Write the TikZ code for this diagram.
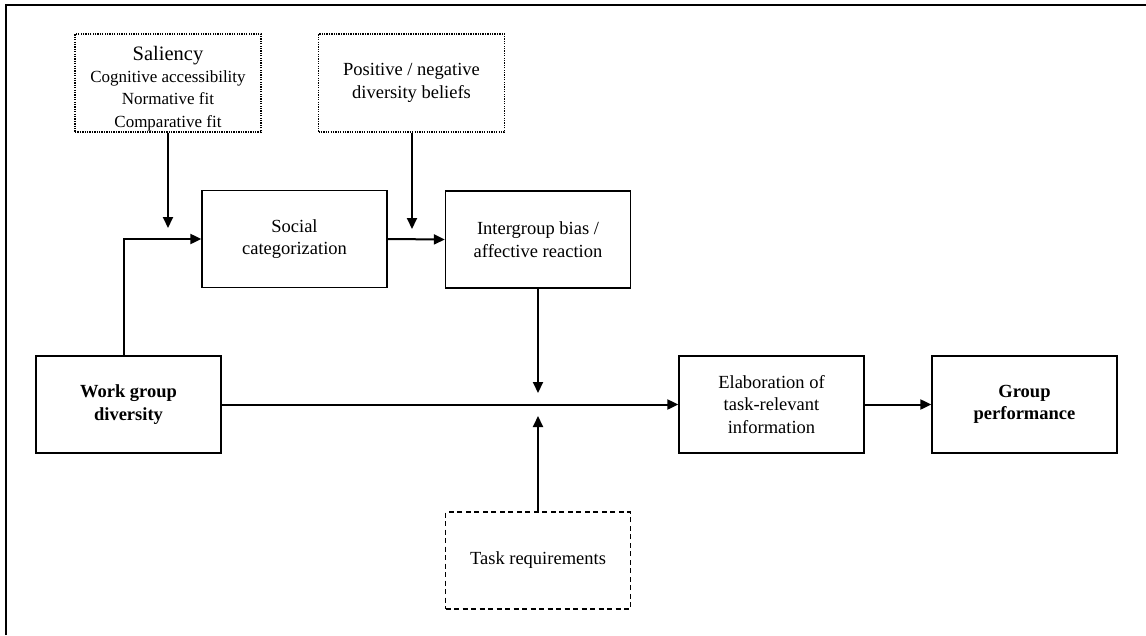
\documentclass[tikz,border=0pt]{standalone}
\usepackage{fontspec}
\setmainfont{Liberation Serif}
\usetikzlibrary{arrows.meta}
\begin{document}
\begin{tikzpicture}[x=1pt,y=-1pt,
  box/.style={draw, line width=1.3pt, minimum width=185pt, minimum height=97pt,
    inner sep=0pt, align=center, font=\fontsize{18.5}{22.5}\selectfont},
  modbox/.style={box, dash pattern=on 1.3pt off 1.1pt},
  taskbox/.style={box, dash pattern=on 5pt off 3.5pt},
  link/.style={line width=2pt, -{Triangle[length=11pt,width=10pt]}},
  plain/.style={line width=2pt}]
\useasboundingbox (0,0) rectangle (1146,635);
% frame
\draw[line width=2pt] (6,635) -- (6,5) -- (1146,5);

% moderators
\node[modbox, minimum width=186pt, minimum height=98pt] (sal) at (168,83)
  {{\fontsize{20.5}{22}\selectfont\rule{0pt}{26pt}Saliency}\\[-1pt]
   {\fontsize{17}{21}\selectfont Cognitive accessibility}\\
   {\fontsize{17}{21}\selectfont Normative fit}\\
   {\fontsize{17}{21}\selectfont Comparative fit}};
\node[modbox, minimum width=186pt, minimum height=98pt] (pos) at (411.5,83)
  {Positive / negative\\diversity beliefs};

% process boxes
\node[box] (soc) at (294.5,239) {Social\\categorization};
\node[box] (ib) at (538,239.5) {Intergroup bias /\\affective reaction};
\node[box] (wgd) at (128.5,404.5) {\bfseries Work group\\\bfseries diversity};
\node[box] (elab) at (771.5,404.5) {Elaboration of\\task-relevant\\information};
\node[box] (gp) at (1024.5,404.5) {\bfseries Group\\\bfseries performance};
\node[taskbox] (task) at (538,560.5) {Task requirements};

% connection points
\coordinate (wgdup) at (124,356);
\coordinate (bend) at (124,239);
\coordinate (salend) at (168,228);
\coordinate (posend) at (412,229);
\coordinate (ibend) at (538,393);
\coordinate (taskend) at (538,416);

% connectors
\draw[link] (wgdup) -- (bend) -- (soc.west);
\draw[link] (sal.south) -- (salend);
\draw[link] (soc.east) -- (ib.west);
\draw[link] (pos.south -| posend) -- (posend);
\draw[link] (ib.south) -- (ibend);
\draw[link] (task.north) -- (taskend);
\draw[link] (wgd.east) -- (elab.west);
\draw[link] (elab.east) -- (gp.west);
\end{tikzpicture}
\end{document}
